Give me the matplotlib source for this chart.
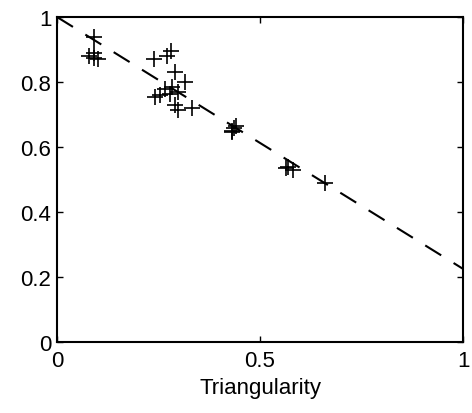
import numpy as np
import matplotlib
matplotlib.use("Agg")
import matplotlib.pyplot as plt

plt.rcParams['font.family'] = ['Liberation Sans', 'DejaVu Sans']

# measured points (triangularity, y)
tri = [0.09, 0.08, 0.09, 0.10, 0.09,
       0.24, 0.27, 0.28, 0.29, 0.315, 0.265, 0.283, 0.278, 0.298,
       0.241, 0.254, 0.29, 0.298, 0.333,
       0.43, 0.44, 0.435, 0.43,
       0.57, 0.58, 0.565,
       0.66]
val = [0.94, 0.88, 0.89, 0.87, 0.875,
       0.87, 0.88, 0.895, 0.83, 0.80, 0.78, 0.785, 0.763, 0.77,
       0.755, 0.76, 0.73, 0.715, 0.72,
       0.65, 0.665, 0.66, 0.645,
       0.54, 0.53, 0.535,
       0.49]

# fitted dashed line endpoints
fit_x = [0.0, 1.0]
fit_y = [1.0, 0.225]

fig = plt.figure(figsize=(4.72, 4.14), dpi=100)
ax = fig.add_axes([0.1208, 0.1715, 0.8602, 0.785])

ax.plot(fit_x, fit_y, color='black', linestyle=(0, (9, 7)), linewidth=1.5)
ax.plot(tri, val, linestyle='none', marker='+', color='black',
        markersize=11, markeredgewidth=1.2)

ax.set_xlim(0, 1)
ax.set_ylim(0, 1)
ax.set_xticks([0, 0.5, 1])
ax.set_xticklabels(['0', '0.5', '1'])
ax.set_yticks([0, 0.2, 0.4, 0.6, 0.8, 1])
ax.set_yticklabels(['0', '0.2', '0.4', '0.6', '0.8', '1'])
ax.tick_params(direction='in', top=True, right=True, length=4,
               width=1, labelsize=16, pad=4)
ax.tick_params(axis='x', pad=6)
for s in ax.spines.values():
    s.set_linewidth(1.5)
ax.set_xlabel('Triangularity', fontsize=16, labelpad=4)

fig.savefig('out.png', dpi=100)
